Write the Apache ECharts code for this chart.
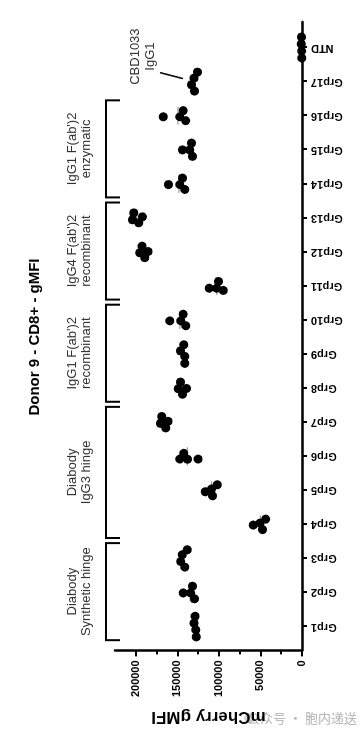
<!DOCTYPE html>
<html>
<head>
<meta charset="utf-8">
<script src="https://cdn.jsdelivr.net/npm/echarts@6/dist/echarts.min.js"></script>
<style>
html,body{margin:0;padding:0;width:360px;height:733px;overflow:hidden;background:#fff;}
#chart{position:absolute;left:0;top:0;width:733px;height:360px;transform-origin:0 0;transform:translate(0,733px) rotate(-90deg);}
</style>
</head>
<body>
<div id="chart"></div>
<script>
// ---------------- data ----------------
const categories = ['Grp1','Grp2','Grp3','Grp4','Grp5','Grp6','Grp7','Grp8','Grp9','Grp10','Grp11','Grp12','Grp13','Grp14','Grp15','Grp16','Grp17','NTD'];
const grp1  = [128600, 127700, 130000, 127300];
const grp2  = [143000, 134000, 131700, 129300];
const grp3  = [146000, 144000, 141000, 138000];
const grp4  = [58700, 50600, 47400, 43700];
const grp5  = [116500, 108800, 107600, 102000];
const grp6  = [147000, 142200, 137700, 125000];
const grp7  = [170300, 168700, 163900, 161100];
const grp8  = [149000, 146200, 143800, 139000];
const grp9  = [146200, 142200, 141000, 141000];
const grp10 = [159000, 145800, 143000, 139800];
const grp11 = [111700, 102800, 100400, 94800];
const grp12 = [195200, 192400, 189200, 185200];
const grp13 = [204000, 202400, 196400, 192000];
const grp14 = [160600, 147000, 143800, 141000];
const grp15 = [143800, 135000, 132900, 131700];
const grp16 = [167000, 147000, 143000, 140000];
const grp17 = [132900, 130000, 129300, 125700];
const ntd   = [900, 600, 400, 200];
const groupValues = [grp1,grp2,grp3,grp4,grp5,grp6,grp7,grp8,grp9,grp10,grp11,grp12,grp13,grp14,grp15,grp16,grp17,ntd];

const valueTickLabels = [0, 50000, 100000, 150000, 200000];
const valueMinorTicks = [25000, 75000, 125000, 175000];

const bracketLabels = ['Diabody\nSynthetic hinge', 'Diabody\nIgG3 hinge', "IgG1 F(ab')2\nrecombinant", "IgG4 F(ab')2\nrecombinant", "IgG1 F(ab')2\nenzymatic"];
const bracketFrom = ['Grp1', 'Grp4', 'Grp8', 'Grp11', 'Grp14'];
const bracketTo   = ['Grp3', 'Grp7', 'Grp10', 'Grp13', 'Grp16'];
const calloutLabel = 'CBD1033\nIgG1';
const calloutTarget = 'Grp17';

const titleText = 'Donor 9 - CD8+ - gMFI';
const yTitle = 'mCherry gMFI';
const watermark = '公众号 · 胞内递送';

// ---------------- chart ----------------
const FONT = '"Liberation Sans", Arial, Helvetica, sans-serif';
const catPos = c => categories.indexOf(c) + 1;
const positions = categories.map((c, i) => i + 1);
const GRID = {left: 81, right: 22, top: 115, bottom: 58};

const chart = echarts.init(document.getElementById('chart'), null, {renderer: 'canvas'});

function mean(a){ return a.reduce((s,v)=>s+v,0)/a.length; }

const baseOption = {
  animation: false,
  backgroundColor: '#fff',
  grid: GRID,
  graphic: [
    {type: 'text', x: GRID.left + (733 - GRID.left - GRID.right) / 2, y: 35,
     style: {text: titleText, align: 'center', verticalAlign: 'middle', fontFamily: FONT, fontSize: 15, fontWeight: 'bold', fill: '#000'}},
    {type: 'circle', x: 15, y: 249, shape: {r: 5}, style: {fill: '#d5d5d5'}, z: -1},
    {type: 'text', x: 15, y: 302, rotation: -Math.PI / 2,
     style: {text: watermark, align: 'center', verticalAlign: 'middle', fontFamily: '"Noto Sans CJK SC", sans-serif', fontSize: 13, fill: '#b5b5b5'}}
  ],
  xAxis: {
    type: 'value', min: 0.3, max: 18.75,
    axisLine: {show: true, onZero: false, lineStyle: {color: '#000', width: 2.5}},
    axisTick: {show: true, length: 5, lineStyle: {color: '#000', width: 2}, customValues: positions},
    axisLabel: {show: true, rotate: 90, margin: 9, customValues: positions,
      formatter: v => categories[Math.round(v) - 1] || '',
      fontFamily: FONT, fontSize: 11, fontWeight: 'bold', color: '#000'},
    splitLine: {show: false}
  },
  yAxis: [{
    type: 'value', min: 0, max: 225000, position: 'left',
    name: yTitle, nameLocation: 'middle', nameRotate: 90, nameGap: 52,
    nameTextStyle: {fontFamily: FONT, fontSize: 17, fontWeight: 'bold', color: '#000'},
    axisLine: {show: true, onZero: false, lineStyle: {color: '#000', width: 2.5}},
    axisTick: {show: true, length: 6, lineStyle: {color: '#000', width: 2}, customValues: valueTickLabels},
    axisLabel: {show: true, margin: 10, customValues: valueTickLabels,
      formatter: v => String(v),
      fontFamily: FONT, fontSize: 11, fontWeight: 'bold', color: '#000'},
    splitLine: {show: false}
  }, {
    type: 'value', min: 0, max: 225000, position: 'left',
    axisLine: {show: false},
    axisTick: {show: true, length: 4, lineStyle: {color: '#000', width: 2}, customValues: valueMinorTicks},
    axisLabel: {show: false},
    splitLine: {show: false}
  }],
  series: [
    {
      type: 'custom', name: 'brackets', clip: false, silent: true, z: 3,
      data: bracketLabels.map((l, i) => [i]),
      renderItem: (params, api) => {
        const i = api.value(0);
        const top = params.coordSys.y;
        const a = api.coord([catPos(bracketFrom[i]) - 0.4, 0])[0];
        const b = api.coord([catPos(bracketTo[i]) + 0.45, 0])[0];
        return {type: 'group', children: [
          {type: 'polyline', shape: {points: [[a, top + 5], [a, top - 9], [b, top - 9], [b, top + 5]]},
           style: {stroke: '#000', lineWidth: 2, fill: null}},
          {type: 'text', x: (a + b) / 2, y: top - 36,
           style: {text: bracketLabels[i], align: 'center', verticalAlign: 'middle', fontFamily: FONT, fontSize: 13, lineHeight: 14, fill: '#333'}}
        ]};
      }
    },
    {
      type: 'custom', name: 'callout', clip: false, silent: true, z: 3,
      data: [[catPos(calloutTarget)]],
      renderItem: (params, api) => {
        const top = params.coordSys.y;
        const x = api.coord([api.value(0), 0])[0];
        return {type: 'group', children: [
          {type: 'line', shape: {x1: x + 9, y1: top + 45, x2: x + 3, y2: top + 68}, style: {stroke: '#000', lineWidth: 1.5}},
          {type: 'text', x: x + 25, y: top + 28,
           style: {text: calloutLabel, align: 'center', verticalAlign: 'middle', fontFamily: FONT, fontSize: 13, lineHeight: 15, fill: '#333'}}
        ]};
      }
    },
    {
      type: 'custom', name: 'mean', clip: false, silent: true, z: 4,
      data: groupValues.map((g, i) => [i + 1, mean(g)]),
      renderItem: (params, api) => {
        const p = api.coord([api.value(0), api.value(1)]);
        return {type: 'line', shape: {x1: p[0] - 9, y1: p[1], x2: p[0] + 9, y2: p[1]}, style: {stroke: '#999', lineWidth: 1.2}};
      }
    },
    {
      type: 'scatter', name: 'points', clip: false, z: 5,
      symbol: 'circle', symbolSize: 9,
      itemStyle: {color: '#000', opacity: 1},
      data: []
    }
  ]
};

chart.setOption(baseOption);

// beeswarm layout using the chart's own scales
const px1 = chart.convertToPixel({xAxisIndex: 0}, 1);
const px2 = chart.convertToPixel({xAxisIndex: 0}, 2);
const pxPerCat = px2 - px1;
const py0 = chart.convertToPixel({yAxisIndex: 0}, 0);
const py1 = chart.convertToPixel({yAxisIndex: 0}, 100000);
const pxPerVal = (py0 - py1) / 100000;
const D = 7;

function swarm(vals) {
  const pv = vals.map(v => v * pxPerVal);
  const order = pv.map((v, i) => i).sort((a, b) => pv[b] - pv[a]);
  const placed = [];
  const off = new Array(vals.length).fill(0);
  order.forEach(i => {
    const v = pv[i];
    const cands = [0];
    placed.forEach(p => {
      const dv = Math.abs(v - p.v);
      if (dv < D) { const d = Math.sqrt(D * D - dv * dv); cands.push(p.o + d, p.o - d); }
    });
    cands.sort((a, b) => (Math.abs(a) - Math.abs(b)) || (b - a));
    const chosen = cands.find(c => placed.every(p => Math.hypot(c - p.o, v - p.v) >= D - 1e-6));
    off[i] = chosen === undefined ? 0 : chosen;
    placed.push({v: v, o: off[i]});
  });
  const mid = (Math.max(...off) + Math.min(...off)) / 2;
  return off.map(o => (o - mid) / pxPerCat);
}

const points = [];
groupValues.forEach((g, gi) => {
  const offs = swarm(g);
  g.forEach((v, k) => points.push([gi + 1 + offs[k], v]));
});

chart.setOption({series: [{}, {}, {}, {data: points}]});
</script>
</body>
</html>
